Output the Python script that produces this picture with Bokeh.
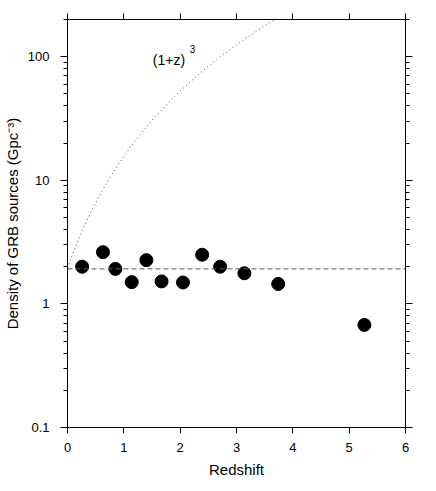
import numpy as np
from bokeh.plotting import figure
from bokeh.models import LogAxis, LinearAxis, FixedTicker, Span
from bokeh.core.properties import value
from bokeh.embed import file_html
from bokeh.resources import INLINE

# --- data ---
redshift = [0.26, 0.63, 0.85, 1.14, 1.40, 1.67, 2.05, 2.39, 2.71, 3.14, 3.74, 5.27]
density = [2.00, 2.62, 1.92, 1.50, 2.26, 1.52, 1.49, 2.50, 2.00, 1.77, 1.45, 0.676]
flat_level = 1.92
curve_norm = 1.95
x_ticks = [0, 1, 2, 3, 4, 5, 6]
y_ticks = [0.1, 1, 10, 100]
y_tick_labels = ["0.1", "1", "10", "100"]
y_minor = [m * d for d in (0.1, 1, 10) for m in range(2, 10)] + [200]

FONT = "Liberation Sans"

p = figure(x_range=(0, 6), y_range=(0.1, 200), y_axis_type="log",
           frame_width=338, frame_height=408,
           min_border_left=60, min_border_top=19, min_border_right=15, min_border_bottom=40,
           output_backend="svg", toolbar_location=None,
           background_fill_color="white", border_fill_color="white")
p.grid.visible = False
p.outline_line_color = "black"
p.outline_line_width = 1

def style_axis(ax, labels=True):
    ax.axis_line_color = "black"
    ax.major_tick_line_color = "black"
    ax.minor_tick_line_color = "black"
    ax.major_tick_out = 7
    ax.major_tick_in = 0
    ax.minor_tick_out = 4
    ax.minor_tick_in = 0
    ax.major_label_text_font = FONT
    ax.major_label_text_font_size = "13px"
    ax.major_label_text_color = "black"
    ax.axis_label_text_font = FONT
    ax.axis_label_text_font_size = "15px"
    ax.axis_label_text_font_style = "normal"
    ax.axis_label_text_color = "black"
    if not labels:
        ax.major_label_text_font_size = "0px"
        ax.major_label_text_alpha = 0

# bottom x axis
xa = p.xaxis[0]
xa.ticker = FixedTicker(ticks=x_ticks, minor_ticks=[])
style_axis(xa)
xa.major_tick_out = 6
xa.major_label_standoff = 9
xa.axis_label = "Redshift"
xa.axis_label_standoff = 6

# left y axis
ya = p.yaxis[0]
ya.ticker = FixedTicker(ticks=y_ticks, minor_ticks=y_minor)
style_axis(ya)
ya.major_label_overrides = {t: l for t, l in zip(y_ticks, y_tick_labels)}
ya.major_label_standoff = 11
ya.axis_label = "Density of GRB sources (Gpc\u207b\u00b3)"
ya.axis_label_standoff = 4

# top axis
ta = LinearAxis(ticker=FixedTicker(ticks=x_ticks, minor_ticks=[]))
style_axis(ta, labels=False)
ta.major_tick_out = 6
p.add_layout(ta, "above")

# right axis
ra = LogAxis(ticker=FixedTicker(ticks=y_ticks, minor_ticks=y_minor))
style_axis(ra, labels=False)
p.add_layout(ra, "right")

# flat dashed level
p.add_layout(Span(location=flat_level, dimension="width", line_color="#555555",
                  line_width=1, line_dash="5 3"))

# (1+z)^3 dotted curve
z = np.linspace(0, 3.8, 200)
p.line(z, curve_norm * (1 + z) ** 3, line_color="#444444", line_width=1, line_dash="1 3")

# curve label
p.text(x=[1.515], y=[93.7], text=["(1+z)"], text_font=value(FONT), text_font_size="14px",
       text_color="black", text_baseline="alphabetic", text_align="left")
p.text(x=[2.17], y=[115], text=["3"], text_font=value(FONT), text_font_size="10px",
       text_color="black", text_baseline="alphabetic", text_align="left")

# data points
p.scatter(redshift, density, size=13, fill_color="black", line_color="black")

open("out.html", "w").write(file_html(p, INLINE))
